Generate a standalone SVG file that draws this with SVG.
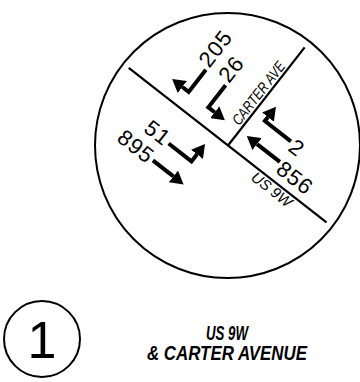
<svg xmlns="http://www.w3.org/2000/svg" width="360" height="382" viewBox="0 0 360 382">
<style>
.ring{fill:none;stroke:#000;stroke-width:2}
.road{fill:none;stroke:#000;stroke-width:2.2}
.arr{fill:none;stroke:#000;stroke-width:4;stroke-linejoin:miter;stroke-linecap:butt;marker-end:url(#ah)}
.num{font-family:"Liberation Sans",Arial,sans-serif;font-size:22px;fill:#000;letter-spacing:1px}
.lbl{font-family:"Liberation Sans",Arial,sans-serif;font-style:italic;font-size:15px;fill:#000}
.ttl{font-family:"Liberation Sans",Arial,sans-serif;font-style:italic;font-weight:bold;font-size:20px;fill:#000}
</style>
<defs>
<marker id="ah" markerUnits="userSpaceOnUse" markerWidth="13" markerHeight="15" viewBox="0 0 13 15" refX="0" refY="7.5" orient="auto">
<path d="M0,0 L13,7.5 L0,15 Z" fill="#000"/>
</marker>
</defs>
<g id="intersection">
<circle class="ring" cx="227.5" cy="145.5" r="132.5"/>
<g transform="translate(228,145.5) rotate(38)">
<g id="roads">
<line class="road" x1="-126" y1="0" x2="125" y2="0"/>
<line class="road" x1="0" y1="0" x2="0" y2="-124.5"/>
<text class="lbl" transform="translate(-3,-22) rotate(-90)" textLength="76" lengthAdjust="spacingAndGlyphs">CARTER AVE</text>
<text class="lbl" x="38" y="13" textLength="47" lengthAdjust="spacingAndGlyphs">US 9W</text>
</g>
<g id="connectors">
<path class="arr" d="M-64,-46 L-64,-18 L-72,-18"/>
<path class="arr" d="M-39,-46 L-39,-18 L-31,-18"/>
<path class="arr" d="M-48,35 L-19,35 L-19,26"/>
<path class="arr" d="M-50,58 L-24,58"/>
<path class="arr" d="M47,-42 L14,-42 L14,-47"/>
<path class="arr" d="M51,-19 L22,-19"/>
</g>
<g id="volumes">
<text class="num" transform="translate(-62,-49) rotate(-90)">205</text>
<text class="num" transform="translate(-37,-49) rotate(-90)">26</text>
<text class="num" x="-50" y="41" text-anchor="end">51</text>
<text class="num" x="-52" y="65" text-anchor="end">895</text>
<text class="num" x="49" y="-33">2</text>
<text class="num" x="53" y="-8">856</text>
</g>
</g>
</g>
<g id="legend">
<circle class="ring" cx="42" cy="339" r="38"/>
<text x="42" y="358" text-anchor="middle" font-family="'Liberation Sans',Arial,sans-serif" font-size="52">1</text>
<text class="ttl" x="227" y="340" text-anchor="middle" textLength="42" lengthAdjust="spacingAndGlyphs">US 9W</text>
<text class="ttl" x="227" y="360" text-anchor="middle" textLength="160" lengthAdjust="spacingAndGlyphs">&amp; CARTER AVENUE</text>
</g>
</svg>
